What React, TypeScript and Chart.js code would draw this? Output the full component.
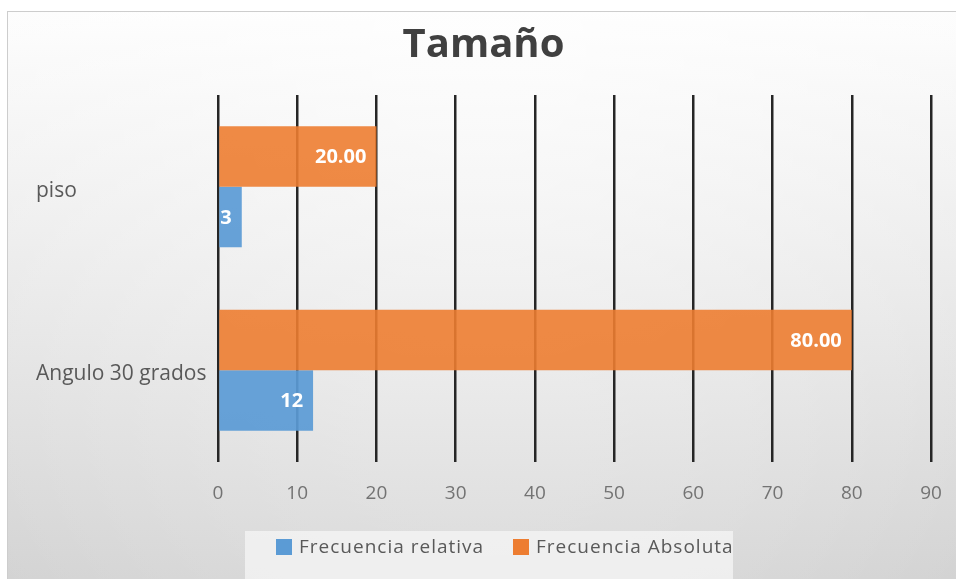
import React, { useEffect, useRef } from "react";
import { Chart, registerables } from "chart.js";

Chart.register(...registerables);

const categories = ["piso", "Angulo 30 grados"];
const absolutaValues = [20, 80];
const relativaValues = [3, 12];
const xTicks = [0, 10, 20, 30, 40, 50, 60, 70, 80, 90];
const titleText = "Tamaño";
const seriesNames = { relativa: "Frecuencia relativa", absoluta: "Frecuencia Absoluta" };

const BLUE = "rgba(91,155,213,0.93)";
const ORANGE = "rgba(237,125,49,0.9)";
const FONT = "'Open Sans', 'DejaVu Sans', sans-serif";

const bgPlugin = {
  id: "bgPlugin",
  beforeDraw(chart: any) {
    const ctx = chart.ctx;
    const w = chart.width;
    const h = chart.height;
    ctx.save();
    ctx.fillStyle = "#ffffff";
    ctx.fillRect(0, 0, w, h);
    const g = ctx.createLinearGradient(0, 11, 0, h);
    g.addColorStop(0, "#fdfdfd");
    g.addColorStop(0.45, "#e8e8e8");
    g.addColorStop(1, "#d0d0d0");
    ctx.fillStyle = g;
    ctx.fillRect(7, 11, w - 7, h - 11);
    const r = ctx.createRadialGradient(w / 2, 40, 50, w / 2, 200, 700);
    r.addColorStop(0, "rgba(255,255,255,0.55)");
    r.addColorStop(1, "rgba(255,255,255,0)");
    ctx.fillStyle = r;
    ctx.fillRect(7, 11, w - 7, h - 11);
    ctx.strokeStyle = "#cdcdcd";
    ctx.lineWidth = 1;
    ctx.strokeRect(7.5, 11.5, w - 7, h - 11);
    ctx.restore();
  },
};

const labelsPlugin = {
  id: "labelsPlugin",
  afterDatasetsDraw(chart: any) {
    const ctx = chart.ctx;
    ctx.save();
    ctx.fillStyle = "#ffffff";
    ctx.font = `bold 20px ${FONT}`;
    ctx.textAlign = "right";
    ctx.textBaseline = "middle";
    chart.data.datasets.forEach((ds: any, di: number) => {
      const meta = chart.getDatasetMeta(di);
      meta.data.forEach((bar: any, i: number) => {
        const v = ds.data[i];
        const txt = di === 0 ? v.toFixed(2) : String(v);
        ctx.fillText(txt, bar.x - 10, bar.y + 1);
      });
    });
    ctx.restore();
  },
};

const legendPlugin = {
  id: "customLegend",
  afterDraw(chart: any) {
    const ctx = chart.ctx;
    ctx.save();
    ctx.fillStyle = "rgba(245,245,245,0.75)";
    ctx.fillRect(245, 531, 488, 48);
    const items = [
      { label: seriesNames.relativa, color: "#5b9bd5", x: 276 },
      { label: seriesNames.absoluta, color: "#ed7d31", x: 513 },
    ];
    ctx.font = `19px ${FONT}`;
    (ctx as any).letterSpacing = "1px";
    ctx.textBaseline = "middle";
    ctx.textAlign = "left";
    items.forEach((it) => {
      ctx.fillStyle = it.color;
      ctx.fillRect(it.x, 539, 16, 16);
      ctx.fillStyle = "#595959";
      ctx.fillText(it.label, it.x + 23, 548);
    });
    ctx.restore();
  },
};

export default function App() {
  const ref = useRef<HTMLCanvasElement | null>(null);
  useEffect(() => {
    document.body.style.margin = "0";
    const canvas = ref.current!;
    const chart = new Chart(canvas, {
      type: "bar",
      data: {
        labels: categories,
        datasets: [
          { label: seriesNames.absoluta, data: absolutaValues, backgroundColor: ORANGE, borderWidth: 0 },
          { label: seriesNames.relativa, data: relativaValues, backgroundColor: BLUE, borderWidth: 0 },
        ],
      },
      options: {
        indexAxis: "y",
        animation: false,
        responsive: false,
        devicePixelRatio: 1,
        layout: { padding: { left: 36, right: 25, top: 0, bottom: 60 } },
        datasets: { bar: { categoryPercentage: 0.66, barPercentage: 1 } },
        plugins: {
          legend: { display: false },
          tooltip: { enabled: false },
          title: {
            display: true,
            text: titleText,
            color: "#404040",
            font: { family: FONT, size: 40, weight: "bold", lineHeight: 1.2 },
            padding: { top: 22, bottom: 25 },
          },
        },
        scales: {
          x: {
            min: 0,
            max: 90,
            afterBuildTicks(scale: any) {
              scale.ticks = xTicks.map((v) => ({ value: v }));
            },
            grid: { color: "#262626", lineWidth: 2.5, drawTicks: false },
            border: { display: false },
            ticks: {
              color: "#737373",
              font: { family: FONT, size: 19 },
              padding: 20,
            },
            afterFit(scale: any) {
              scale.height = 57;
              scale.paddingLeft = 0;
              scale.paddingRight = 0;
            },
          },
          y: {
            grid: { display: false, drawTicks: false },
            border: { display: false },
            ticks: {
              color: "#595959",
              font: { family: FONT, size: 21, lineHeight: "8px" },
              crossAlign: "far",
              padding: 0,
              callback(this: any, value: any) {
                return ["", this.getLabelForValue(value)];
              },
            },
            afterFit(scale: any) {
              scale.width = 182;
            },
          },
        },
      },
      plugins: [bgPlugin, labelsPlugin, legendPlugin],
    } as any);
    return () => chart.destroy();
  }, []);
  return (
    <div style={{ width: 956, height: 579 }}>
      <canvas ref={ref} width={956} height={579} style={{ width: 956, height: 579, display: "block" }} />
    </div>
  );
}
